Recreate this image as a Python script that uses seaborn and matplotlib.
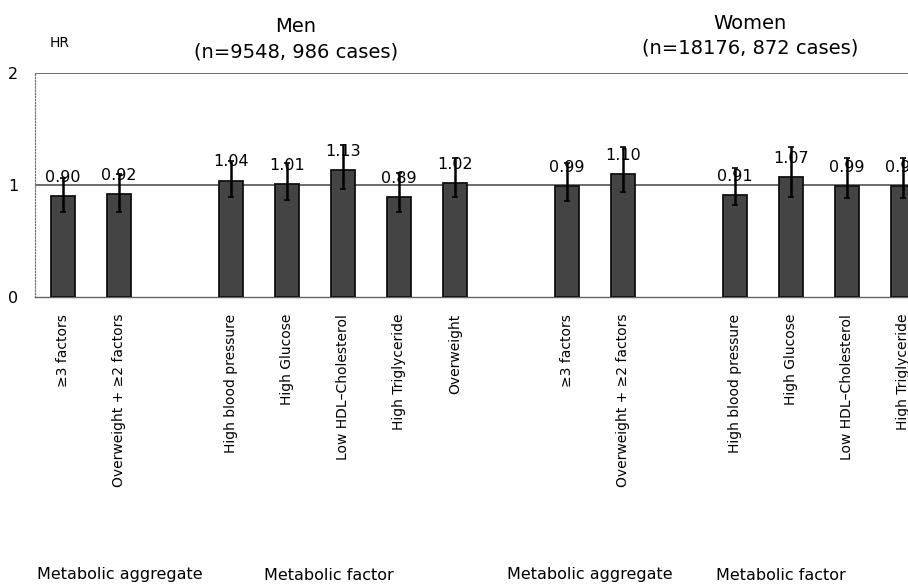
import matplotlib
matplotlib.use("Agg")
import matplotlib.pyplot as plt
from matplotlib.container import BarContainer
import seaborn as sns
import pandas as pd
import numpy as np

# ---- data ----
factor_labels = ["High blood pressure", "High Glucose", "Low HDL\u2013Cholesterol",
                 "High Triglyceride", "Overweight"]
aggregate_labels = ["\u22653 factors", "Overweight + \u22652 factors"]

men_agg_hr = [0.90, 0.92]
men_agg_lo = [0.76, 0.76]
men_agg_hi = [1.06, 1.10]

men_fac_hr = [1.04, 1.01, 1.13, 0.89, 1.02]
men_fac_lo = [0.89, 0.87, 0.96, 0.76, 0.89]
men_fac_hi = [1.21, 1.20, 1.36, 1.11, 1.24]

women_agg_hr = [0.99, 1.10]
women_agg_lo = [0.86, 0.94]
women_agg_hi = [1.20, 1.34]

# only the first four women factors are visible in the (cropped) chart
women_fac_labels = factor_labels[:4]
women_fac_hr = [0.91, 1.07, 0.99, 0.99]
women_fac_lo = [0.82, 0.89, 0.88, 0.88]
women_fac_hi = [1.15, 1.34, 1.24, 1.24]

men_title = "Men\n(n=9548, 986 cases)"
women_title = "Women\n(n=18176, 872 cases)"
group_names = ["Metabolic aggregate", "Metabolic factor",
               "Metabolic aggregate", "Metabolic factor"]

# ---- build table ----
rows = []
order = []
def add(prefix, labels, hr, lo, hi):
    for l, h, a, b in zip(labels, hr, lo, hi):
        key = f"{prefix}|{l}"
        rows.append(dict(key=key, hr=h, lo=a, hi=b))
        order.append(key)

add("M", aggregate_labels, men_agg_hr, men_agg_lo, men_agg_hi)
order.append("gap1")
add("M", factor_labels, men_fac_hr, men_fac_lo, men_fac_hi)
order.append("gap2")
add("W", aggregate_labels, women_agg_hr, women_agg_lo, women_agg_hi)
order.append("gap3")
add("W", women_fac_labels, women_fac_hr, women_fac_lo, women_fac_hi)
df = pd.DataFrame(rows)

sns.set_theme(style="white")
plt.rcParams['font.family'] = ['DejaVu Sans']
plt.rcParams['text.color'] = 'black'
plt.rcParams['xtick.color'] = 'black'
plt.rcParams['ytick.color'] = 'black'

fig = plt.figure(figsize=(9.08, 5.88), dpi=100)
ax = fig.add_axes([35/908, 1-297/588, 1-35/908, (297-73)/588])

sns.barplot(data=df, x="key", y="hr", order=order, color="#444444",
            width=0.42, edgecolor="#111111", linewidth=1.3, saturation=1,
            errorbar=None, ax=ax, zorder=3)

pos = {k: i for i, k in enumerate(order)}
xs = [pos[k] for k in df["key"]]
ax.errorbar(xs, df["hr"], yerr=[df["hr"] - df["lo"], df["hi"] - df["hr"]],
            fmt="none", ecolor="black", elinewidth=1.8, capsize=2.5,
            capthick=1.2, zorder=5)

for c in ax.containers:
    if isinstance(c, BarContainer):
        labs = ["" if not np.isfinite(p.get_height()) or p.get_height() == 0
                else f"{p.get_height():.2f}" for p in c.patches]
        ax.bar_label(c, labels=labs, padding=8, fontsize=11.5, color="black", zorder=6)

ax.set_ylim(0, 2)
ax.set_xlim(-0.5, 15.09)
ax.set_yticks([0, 1, 2])
ax.set_yticklabels(["0", "1", "2"], fontsize=11.5)
ax.tick_params(axis="y", length=0, pad=12)
ax.tick_params(axis="x", length=0, pad=12)
ax.set_xticks(range(len(order)))
ax.set_xticklabels([k.split("|")[1] if "|" in k else "" for k in order],
                   rotation=90, fontsize=10, va="top", ha="center")
ax.set_xlabel("")
ax.set_ylabel("")

for yv in [1, 2]:
    ax.axhline(yv, color="#444444", lw=1.1, zorder=2)
for s in ["top", "right"]:
    ax.spines[s].set_visible(False)
ax.spines["left"].set_linestyle((0, (1, 1.5)))
ax.spines["left"].set_color("#777777")
ax.spines["left"].set_linewidth(0.9)
ax.spines["bottom"].set_linestyle((0, (2, 1)))
ax.spines["bottom"].set_color("#666666")
ax.spines["bottom"].set_linewidth(1.0)

fig.text(60/908, 1-43/588, "HR", fontsize=10, ha="center", va="center")
fig.text(296/908, 1-39/588, men_title, fontsize=14, ha="center", va="center",
         linespacing=1.4)
fig.text(750/908, 1-36/588, women_title, fontsize=14, ha="center", va="center",
         linespacing=1.4)

for xp, name in zip([120, 329, 590, 781], group_names):
    fig.text(xp/908, 1-575/588, name, fontsize=11.5, ha="center", va="center")

fig.savefig("out.png", dpi=100)
